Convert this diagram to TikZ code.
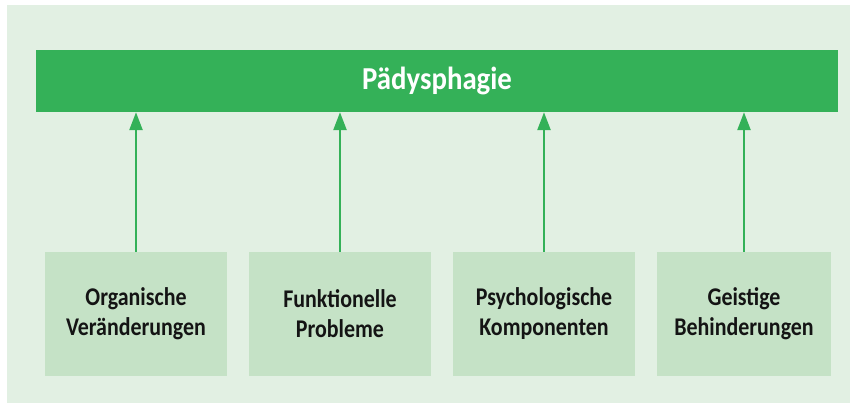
\documentclass[tikz,border=0pt]{standalone}
\usepackage{fontspec}
\setmainfont{Carlito}
\newfontfamily\boxfont[FakeStretch=0.86]{Carlito}
\newfontfamily\titlefont[FakeStretch=0.9]{Carlito}
\usetikzlibrary{arrows.meta}
\definecolor{bargreen}{HTML}{34B158}
\definecolor{bglight}{HTML}{E2F0E3}
\definecolor{boxgreen}{HTML}{C5E2C6}
\definecolor{txt}{HTML}{141414}
\tikzset{
  causebox/.style={fill=boxgreen, draw=none, minimum height=124pt, inner sep=0pt,
    align=center, text=txt, font=\boxfont\bfseries\fontsize{25.5}{30}\selectfont},
  arr/.style={draw=bargreen, line width=2.5pt, -{Triangle[width=13pt,length=18pt]}}
}
\begin{document}
\begin{tikzpicture}[x=1pt,y=-1pt]
\useasboundingbox (0,0) rectangle (850,403);
\fill[white] (0,0) rectangle (850,403);
\fill[bglight] (7,5) rectangle (850,403);
\node[fill=bargreen, minimum width=802pt, minimum height=62pt, inner sep=0pt,
  text=white, font=\titlefont\bfseries\fontsize{32}{36}\selectfont] (bar) at (437,81) {Pädysphagie};
\node[causebox, minimum width=182pt] (b1) at (136,314) {Organische\\Veränderungen};
\node[causebox, minimum width=182pt] (b2) at (340,314) {Funktionelle\\Probleme};
\node[causebox, minimum width=182pt] (b3) at (544,314) {Psychologische\\Komponenten};
\node[causebox, minimum width=174pt] (b4) at (744,314) {Geistige\\Behinderungen};
\foreach \b in {b1,b2,b3,b4}{
  \draw[arr] (\b.north) -- (\b.north |- bar.south);
}
\end{tikzpicture}
\end{document}
